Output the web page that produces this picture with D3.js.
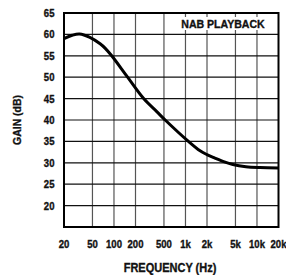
<!DOCTYPE html>
<html><head><meta charset="utf-8">
<script src="https://cdn.jsdelivr.net/npm/d3@7/dist/d3.min.js"></script>
<style>
html,body{margin:0;padding:0;background:#fff;}
svg{display:block;}
text{font-family:"Liberation Sans",Arial,sans-serif;font-weight:bold;fill:#111;stroke:#111;stroke-width:0.35px;}
</style></head>
<body>
<svg id="c" width="286" height="275"></svg>
<script>
const freqTicks = [20, 50, 100, 200, 500, 1000, 2000, 5000, 10000, 20000];
const freqLabels = ["20", "50", "100", "200", "500", "1k", "2k", "5k", "10k", "20k"];
const gainTicks = [20, 25, 30, 35, 40, 45, 50, 55, 60, 65];
const curveFreq = [20, 26, 33, 46, 64, 75, 93, 155, 260, 400, 520, 1100, 1600, 2000, 2500, 3500, 4600, 7000, 11000, 20000];
const curveGain = [59.0, 59.8, 60.1, 59.3, 57.8, 56.8, 55.0, 50.0, 45.0, 41.9, 40.0, 35.0, 32.8, 31.9, 31.2, 30.2, 29.6, 29.1, 28.9, 28.8];
const titleX = "FREQUENCY (Hz)";
const titleY = "GAIN (dB)";
const legendText = "NAB PLAYBACK";

const svg = d3.select("#c");
const L = 64, R = 278.5, T = 13, B = 227;
const x = d3.scaleLog().domain([20, 20000]).range([L, R]);
const y = d3.scaleLinear().domain([15, 65]).range([B, T]);

function label(g, tx, ty, s, size, anchor, txt, rot) {
  return g.append("text")
    .attr("transform", `translate(${tx},${ty})` + (rot ? ` rotate(${rot})` : "") + ` scale(${s},1)`)
    .attr("text-anchor", anchor).attr("font-size", size).text(txt);
}

// vertical grid
svg.append("g").selectAll("line").data(freqTicks.slice(1, -1)).join("line")
  .attr("x1", d => x(d)).attr("x2", d => x(d)).attr("y1", T).attr("y2", B)
  .attr("stroke", "#555").attr("stroke-width", 1.2);
// horizontal grid
svg.append("g").selectAll("line").data(gainTicks.filter(d => d < 65)).join("line")
  .attr("x1", L).attr("x2", R).attr("y1", d => y(d)).attr("y2", d => y(d))
  .attr("stroke", "#111").attr("stroke-width", 1.2);

// legend box
const lg = svg.append("g");
lg.append("rect").attr("x", 178).attr("y", 17).attr("width", 90).attr("height", 13).attr("fill", "#fff");
label(lg, 223, 28, 0.96, 11, "middle", legendText);

// curve
const pts = curveFreq.map((f, i) => [f, curveGain[i]]);
svg.append("path").datum(pts)
  .attr("d", d3.line().x(d => x(d[0])).y(d => y(d[1])).curve(d3.curveCatmullRom.alpha(0.5)))
  .attr("fill", "none").attr("stroke", "#000").attr("stroke-width", 3);

// frame
svg.append("rect").attr("x", L).attr("y", T).attr("width", R - L).attr("height", B - T)
  .attr("fill", "none").attr("stroke", "#000").attr("stroke-width", 2);

// y tick labels
const gy = svg.append("g");
gainTicks.forEach(d => label(gy, 54.5, y(d) + 4, 0.87, 11, "end", String(d)));
// x tick labels
const gx = svg.append("g");
freqTicks.forEach((d, i) => label(gx, x(d), 248, 0.87, 11, "middle", freqLabels[i]));

// axis titles
label(svg, 170, 272, 0.88, 12.5, "middle", titleX);
label(svg, 21, 120, 0.95, 11, "middle", titleY, -90);
</script>
</body></html>
